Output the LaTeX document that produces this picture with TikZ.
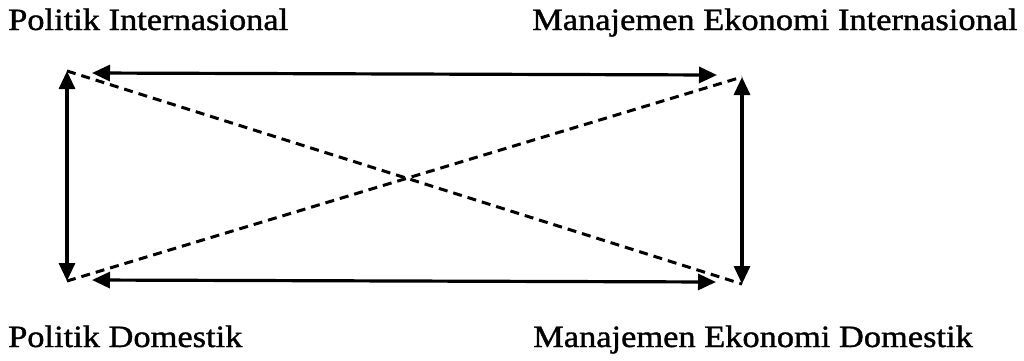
\documentclass[tikz,border=0pt]{standalone}
\usepackage{fontspec}
\setmainfont{Liberation Serif}
\newfontfamily\lblfont[FakeStretch=1.11,FakeBold=1.2]{Liberation Serif}
\usetikzlibrary{arrows.meta}
\begin{document}
\begin{tikzpicture}[x=1pt,y=-1pt,
  lbl/.style={anchor=base west,inner sep=0pt,font=\lblfont\fontsize{31}{34}\selectfont},
  link/.style={line width=3.2pt,{Triangle[length=18pt,width=16pt]}-{Triangle[length=18pt,width=16pt]}},
  cross/.style={line width=3pt,dash pattern=on 9pt off 6pt}]
\useasboundingbox (0,0) rectangle (1024,360);
\node[lbl] (pi) at (8,30) {Politik Internasional};
\node[lbl] (mei) at (532,30) {Manajemen Ekonomi Internasional};
\node[lbl] (pd) at (8,347) {Politik Domestik};
\node[lbl] (med) at (533,347) {Manajemen Ekonomi Domestik};
% corner points
\coordinate (tl) at (67,71);
\coordinate (tr) at (742,77);
\coordinate (bl) at (67,281);
\coordinate (br) at (742,284);
% horizontal arrow ends
\coordinate (th1) at (92,73);
\coordinate (th2) at (717,75);
\coordinate (bh1) at (92,280);
\coordinate (bh2) at (716,282);
\draw[link] (th1) -- (th2);
\draw[link] (bh1) -- (bh2);
\draw[link] (tl) -- (bl);
\draw[link] (tr) -- (br);
\draw[cross] (tl) -- (br);
\draw[cross] (bl) -- (tr);
\end{tikzpicture}
\end{document}
